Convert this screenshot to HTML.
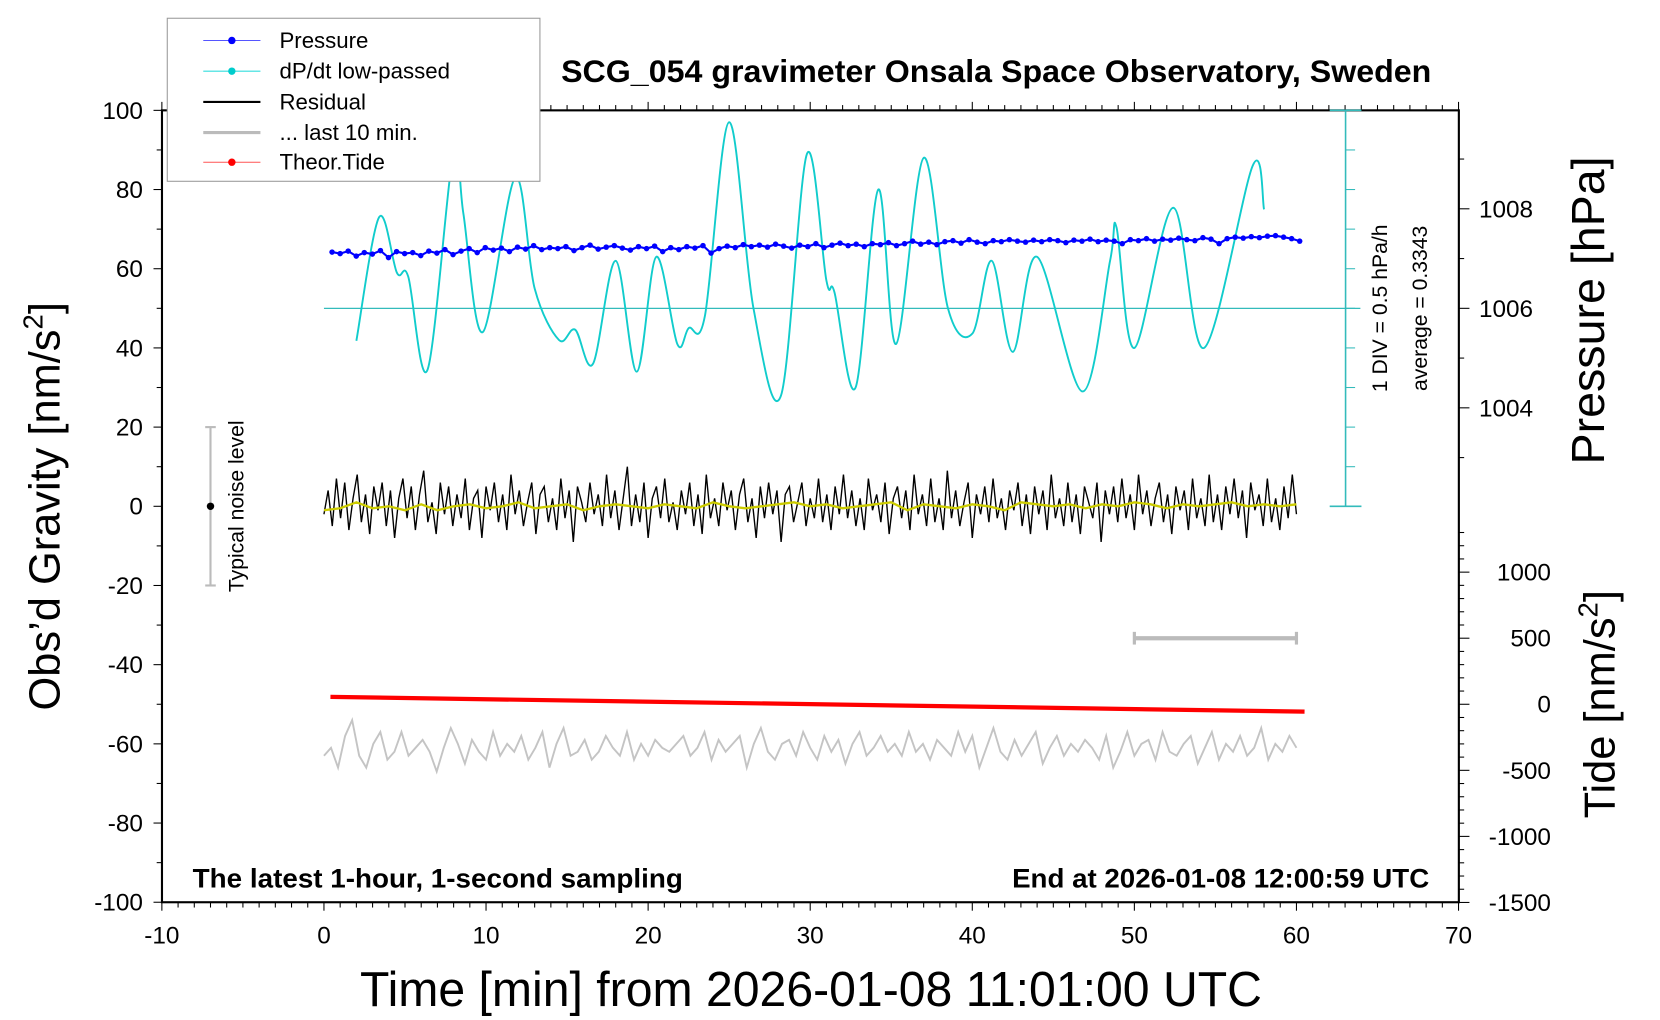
<!DOCTYPE html>
<html><head><meta charset="utf-8"><style>
html,body{margin:0;padding:0;background:#fff;}
svg{display:block;font-family:"Liberation Sans",sans-serif;}
</style></head><body>
<svg id="chart" width="1660" height="1020" viewBox="0 0 1568 963" xmlns="http://www.w3.org/2000/svg">
<g id="axes"></g>
<g id="marks"></g>
<text x="941" y="77" text-anchor="middle" font-size="30" font-weight="bold" textLength="822" lengthAdjust="spacingAndGlyphs">SCG_054 gravimeter Onsala Space Observatory, Sweden</text>
<text x="182" y="838" font-size="25" font-weight="bold" textLength="463" lengthAdjust="spacingAndGlyphs">The latest 1-hour, 1-second sampling</text>
<text x="956" y="838" font-size="25" font-weight="bold" textLength="394" lengthAdjust="spacingAndGlyphs">End at 2026-01-08 12:00:59 UTC</text>
<text x="766" y="950" text-anchor="middle" font-size="46" textLength="852" lengthAdjust="spacingAndGlyphs">Time [min] from 2026-01-08 11:01:00 UTC</text>
<text transform="translate(56,478) rotate(-90)" text-anchor="middle" font-size="41">Obs’d Gravity [nm/s<tspan font-size="26" dy="-16">2</tspan><tspan dy="16">]</tspan></text>
<text transform="translate(1515,293) rotate(-90)" text-anchor="middle" font-size="44">Pressure [hPa]</text>
<text transform="translate(1525,665) rotate(-90)" text-anchor="middle" font-size="41">Tide [nm/s<tspan font-size="26" dy="-16">2</tspan><tspan dy="16">]</tspan></text>
<text transform="translate(1310,291) rotate(-90)" text-anchor="middle" font-size="20">1 DIV = 0.5 hPa/h</text>
<text transform="translate(1348,291) rotate(-90)" text-anchor="middle" font-size="20">average = 0.3343</text>
<text transform="translate(230,478) rotate(-90)" text-anchor="middle" font-size="20">Typical noise level</text>
<g>
<rect x="158" y="17" width="352" height="154" fill="#fff" stroke="#999" stroke-width="1"/>
<g><line x1="192" y1="38" x2="246" y2="38" stroke="#55f" stroke-width="1"/><circle cx="219" cy="38" r="3.5" fill="#00f"/><text x="264" y="45" font-size="21">Pressure</text></g>
<g><line x1="192" y1="67" x2="246" y2="67" stroke="#3dd" stroke-width="1"/><circle cx="219" cy="67" r="3.5" fill="#0cc"/><text x="264" y="74" font-size="21">dP/dt low-passed</text></g>
<g><line x1="192" y1="96" x2="246" y2="96" stroke="#000" stroke-width="2"/><text x="264" y="103" font-size="21">Residual</text></g>
<g><line x1="192" y1="125" x2="246" y2="125" stroke="#bbb" stroke-width="3"/><text x="264" y="132" font-size="21">... last 10 min.</text></g>
<g><line x1="192" y1="153" x2="246" y2="153" stroke="#f55" stroke-width="1"/><circle cx="219" cy="153" r="3.5" fill="#f00"/><text x="264" y="160" font-size="21">Theor.Tide</text></g>
</g>
</svg>
<script>
// ---- data ----
const xTicks = [-10,0,10,20,30,40,50,60,70];
const yTicks = [100,80,60,40,20,0,-20,-40,-60,-80,-100];
const pTicks = [1008,1006,1004];
const tideTicks = [1000,500,0,-500,-1000,-1500];
// dP/dt low-passed (hPa/h), key points
const dpTime = [2,3.4,4.5,5.2,6.4,8,8.6,9.8,11.8,13,14.5,15.5,16.6,18,19.3,20.5,21.8,22.5,23.5,25,26.5,28.2,29.8,31,31.5,32.8,34.2,35.3,37,38.5,40,41.2,42.5,44,46.8,48.5,48.9,50,52.4,54.3,57.3,58];
const dpValue = [-0.41,1.15,0.45,0.4,-0.77,2.0,1.2,-0.3,1.65,0.25,-0.4,-0.27,-0.7,0.6,-0.8,0.65,-0.45,-0.25,-0.1,2.35,0,-1.1,1.95,0.35,0.2,-1.0,1.5,-0.45,1.9,0,-0.32,0.6,-0.55,0.65,-1.05,0.6,1.02,-0.5,1.27,-0.5,1.8,1.25];
// pressure (hPa), one value per 30 s
const pressure = [1007.13,1007.10,1007.15,1007.05,1007.12,1007.09,1007.16,1007.02,1007.14,1007.10,1007.12,1007.06,1007.15,1007.11,1007.18,1007.08,1007.15,1007.20,1007.12,1007.22,1007.17,1007.21,1007.14,1007.23,1007.19,1007.26,1007.18,1007.22,1007.20,1007.24,1007.16,1007.22,1007.27,1007.19,1007.23,1007.26,1007.21,1007.17,1007.24,1007.20,1007.25,1007.14,1007.22,1007.18,1007.24,1007.21,1007.26,1007.11,1007.20,1007.25,1007.22,1007.28,1007.24,1007.27,1007.23,1007.29,1007.25,1007.21,1007.27,1007.24,1007.30,1007.22,1007.27,1007.31,1007.26,1007.29,1007.24,1007.30,1007.28,1007.32,1007.26,1007.30,1007.35,1007.29,1007.33,1007.28,1007.34,1007.36,1007.31,1007.38,1007.33,1007.30,1007.36,1007.34,1007.38,1007.35,1007.33,1007.37,1007.34,1007.38,1007.36,1007.32,1007.37,1007.35,1007.39,1007.34,1007.37,1007.35,1007.30,1007.38,1007.36,1007.40,1007.35,1007.39,1007.37,1007.41,1007.38,1007.36,1007.42,1007.39,1007.30,1007.40,1007.43,1007.41,1007.44,1007.42,1007.45,1007.46,1007.43,1007.40,1007.35];
// residual (nm/s^2), one value per 12 s
const residual = [-2,4,-5,7,-3,6,-6,2,8,-4,3,-7,5,-1,6,-5,4,-8,2,7,-3,5,-6,3,9,-4,1,-7,6,-2,5,-5,3,-3,7,-6,2,4,-8,5,-1,6,-4,3,-6,8,-2,4,-5,1,6,-7,3,5,-4,2,-6,7,-3,4,-9,5,1,-4,6,-2,3,-5,8,-3,4,-6,2,10,-5,3,-4,6,-8,2,5,-3,7,-4,1,-6,4,-2,6,-5,3,-7,8,-3,2,-5,6,-1,4,-6,3,7,-4,2,-8,5,-3,6,-2,4,-9,3,5,-4,1,6,-5,2,-3,7,-4,3,-6,5,-2,8,-3,4,-5,2,-6,7,-1,3,-4,6,-7,2,5,-3,4,-6,8,-2,3,-5,7,-4,2,-6,9,-3,4,-5,1,6,-8,3,-2,5,-4,7,-3,2,-6,4,-1,6,-5,3,-7,5,-2,4,-6,8,-3,2,-5,6,-4,3,-7,5,1,-3,6,-9,4,-2,5,-4,7,-3,3,-6,8,-2,4,-5,2,6,-4,3,-7,5,-1,4,-6,7,-3,2,-5,8,-4,3,-6,5,-2,7,-3,4,-8,6,-1,3,-5,7,-4,2,-6,5,-3,8,-2];
// smoothed residual, one per minute
const smooth = [-1,-0.5,1,-0.5,0,-1,0.5,-1,0,0.5,-0.5,0,1,-0.5,0,0.5,-1,0,0.5,0,-0.5,0.5,0,-0.5,1,0,-0.5,0,0.5,1,0,0.5,-0.5,0,0.5,1,-1,0.5,0,-0.5,0.5,0,-1,1,0.5,0,0.5,-0.5,0.5,0,1,0.5,-0.5,0.5,0,0.5,1,0,0.5,0,0.5];
// last 10 min (nm/s^2 on gravity axis), stretched over 0-60 min
const last10 = [-63,-61,-66,-58,-54,-63,-66,-60,-57,-64,-62,-57,-63,-61,-59,-62,-67,-61,-56,-60,-65,-59,-62,-64,-57,-63,-60,-62,-58,-64,-61,-57,-66,-60,-56,-63,-62,-59,-64,-62,-58,-61,-63,-57,-64,-60,-63,-59,-61,-62,-60,-58,-63,-61,-57,-64,-59,-62,-60,-58,-66,-60,-56,-62,-64,-60,-59,-63,-57,-61,-64,-58,-62,-59,-65,-60,-57,-63,-61,-58,-62,-60,-63,-57,-62,-60,-64,-59,-61,-63,-57,-62,-58,-66,-61,-56,-62,-64,-59,-63,-60,-57,-65,-61,-58,-63,-60,-62,-59,-61,-64,-58,-66,-62,-57,-63,-60,-59,-64,-57,-62,-63,-60,-58,-65,-61,-57,-64,-60,-62,-58,-63,-61,-56,-64,-60,-62,-58,-61];
const tideStart = 56, tideEnd = -56;

// ---- scales ----
const X = t => 306 + t*15.31;
const Y = g => 478 - g*3.74;
const YP = p => 291 - (p-1006)*47;
const YT = v => 665 - v*0.1248;
const YD = d => 291 - d*74.8;
const NS = "http://www.w3.org/2000/svg";
function mk(tag, attrs, parent){const e=document.createElementNS(NS,tag);for(const k in attrs)e.setAttribute(k,attrs[k]);parent.appendChild(e);return e;}
const ax = document.getElementById('axes');
const mr = document.getElementById('marks');

let f = mk('rect',{x:153,y:104,width:1225,height:748,fill:'none',stroke:'#000','stroke-width':2},ax);


for(let t=-10;t<=70;t++){
  const L = t%10===0?8:5;
  mk('line',{x1:X(t),x2:X(t),y1:852,y2:852+L,stroke:'#000','stroke-width':1},ax);
  mk('line',{x1:X(t),x2:X(t),y1:104,y2:104-L,stroke:'#000','stroke-width':1},ax);
}
xTicks.forEach(t=>{const e=mk('text',{x:X(t),y:891,'text-anchor':'middle','font-size':23},ax);e.textContent=t;

});
for(let g=-100;g<=100;g+=10){mk('line',{x1:153,x2:g%20===0?145:148,y1:Y(g),y2:Y(g),stroke:'#000','stroke-width':1},ax);}
yTicks.forEach(g=>{const e=mk('text',{x:135,y:Y(g)+8,'text-anchor':'end','font-size':23},ax);e.textContent=g;

});
for(let p=1003;p<=1009;p++){mk('line',{x1:1378,x2:p%2===0?1388:1383,y1:YP(p),y2:YP(p),stroke:'#000','stroke-width':1},ax);}
pTicks.forEach(p=>{const e=mk('text',{x:1397,y:YP(p)+8,'font-size':23},ax);e.textContent=p;

});
for(let v=-1500;v<=1300;v+=100){mk('line',{x1:1378,x2:v%500===0?1388:1383,y1:YT(v),y2:YT(v),stroke:'#000','stroke-width':1},ax);}
tideTicks.forEach(v=>{const e=mk('text',{x:1465,y:YT(v)+8,'text-anchor':'end','font-size':23},ax);e.textContent=v;

});
const cy='#3bb';
mk('line',{x1:1271,x2:1271,y1:104,y2:478,stroke:cy,'stroke-width':1.5},ax);
mk('line',{x1:1256,x2:1286,y1:104,y2:104,stroke:cy,'stroke-width':1.5},ax);
mk('line',{x1:1256,x2:1286,y1:478,y2:478,stroke:cy,'stroke-width':1.5},ax);
for(let d=-2;d<=2;d+=0.5){mk('line',{x1:1271,x2:1280,y1:YD(d),y2:YD(d),stroke:cy,'stroke-width':1},ax);}
let zl = mk('line',{x1:306,x2:1285,y1:YD(0),y2:YD(0),stroke:cy,'stroke-width':1.2},ax);



let nb = mk('g',{},mr);


mk('line',{x1:X(-7),x2:X(-7),y1:Y(20),y2:Y(-20),stroke:'#bbb','stroke-width':2},nb);
mk('line',{x1:X(-7)-5,x2:X(-7)+5,y1:Y(20),y2:Y(20),stroke:'#bbb','stroke-width':2},nb);
mk('line',{x1:X(-7)-5,x2:X(-7)+5,y1:Y(-20),y2:Y(-20),stroke:'#bbb','stroke-width':2},nb);
mk('circle',{cx:X(-7),cy:Y(0),r:3.5,fill:'#000'},nb);
let tb = mk('g',{},mr);


mk('line',{x1:X(50),x2:X(60),y1:YT(500),y2:YT(500),stroke:'#bbb','stroke-width':4},tb);
mk('line',{x1:X(50),x2:X(50),y1:YT(500)-6,y2:YT(500)+6,stroke:'#bbb','stroke-width':3},tb);
mk('line',{x1:X(60),x2:X(60),y1:YT(500)-6,y2:YT(500)+6,stroke:'#bbb','stroke-width':3},tb);

(function(){
  const pts = dpTime.map((t,i)=>[X(t),YD(dpValue[i])]);
  let d='M'+pts[0][0]+','+pts[0][1];
  for(let i=0;i<pts.length-1;i++){
    const p0=pts[Math.max(0,i-1)],p1=pts[i],p2=pts[i+1],p3=pts[Math.min(pts.length-1,i+2)];
    const c1=[p1[0]+(p2[0]-p0[0])/6,p1[1]+(p2[1]-p0[1])/6];
    const c2=[p2[0]-(p3[0]-p1[0])/6,p2[1]-(p3[1]-p1[1])/6];
    d+=' C'+c1[0]+','+c1[1]+' '+c2[0]+','+c2[1]+' '+p2[0]+','+p2[1];
  }
  const e=mk('path',{d:d,fill:'none',stroke:'#1cc','stroke-width':1.8},mr);
  
  
})();

(function(){
  const n=pressure.length, dt=60/(n-1);
  const g=mk('g',{fill:'#00f'},mr);
  
  
  const d=pressure.map((p,i)=>(i?'L':'M')+X(0.5+i*dt*0.995)+','+YP(p)).join(' ');
  mk('path',{d:d,fill:'none',stroke:'#00f','stroke-width':2},g);
  pressure.forEach((p,i)=>{mk('circle',{cx:X(0.5+i*dt*0.995),cy:YP(p),r:2.6},g);});
})();

(function(){
  const n=residual.length;
  const d=residual.map((v,i)=>(i?'L':'M')+X(i*60/(n-1))+','+Y(v)).join(' ');
  const e=mk('path',{d:d,fill:'none',stroke:'#000','stroke-width':1.3},mr);
  
  
  const m=smooth.length;
  const d2=smooth.map((v,i)=>(i?'L':'M')+X(i*60/(m-1))+','+Y(v)).join(' ');
  const e2=mk('path',{d:d2,fill:'none',stroke:'#cc0','stroke-width':2.2},mr);
  
  
})();

(function(){
  const e=mk('line',{x1:X(0.4),x2:X(60.5),y1:YT(tideStart),y2:YT(tideEnd),stroke:'#f00','stroke-width':4},mr);
  
  
})();

(function(){
  const n=last10.length;
  const d=last10.map((v,i)=>(i?'L':'M')+X(i*60/(n-1))+','+Y(v)).join(' ');
  const e=mk('path',{d:d,fill:'none',stroke:'#c4c4c4','stroke-width':1.8},mr);
  
  
})();
</script>
</body></html>
